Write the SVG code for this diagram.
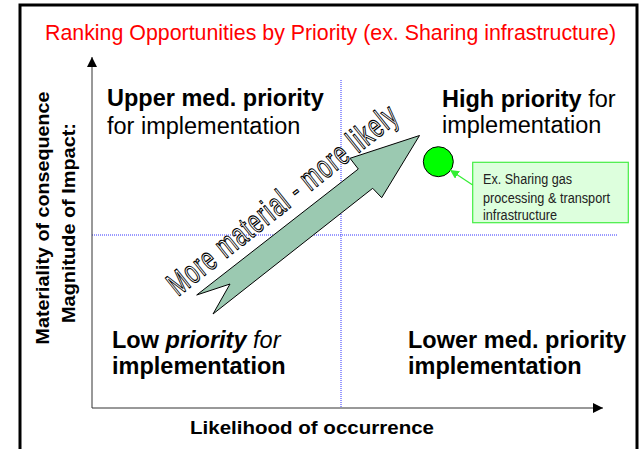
<svg xmlns="http://www.w3.org/2000/svg" width="644" height="449" viewBox="0 0 644 449">
  <defs>
    <style>
      .lbl { font-family: "Liberation Sans", Arial, sans-serif; font-size: 23.5px; fill: #000; }
      .b { font-weight: bold; }
      .axis { stroke: #333; stroke-width: 1; fill: none; }
      .grid { stroke: #3333ff; stroke-width: 1; stroke-dasharray: 1 1; fill: none; }
      .axlbl { font-family: "Liberation Sans", Arial, sans-serif; font-size: 18px; font-weight: bold; fill: #000; }
      .note { font-family: "Liberation Sans", Arial, sans-serif; font-size: 14px; fill: #222; }
    </style>
    <marker id="ah" viewBox="0 0 10 10" refX="10" refY="5" markerWidth="10" markerHeight="10" markerUnits="userSpaceOnUse" orient="auto">
      <path d="M0,0 L10,5 L0,10 z" fill="#000"/>
    </marker>
    <marker id="gh" viewBox="0 0 10 10" refX="10" refY="5" markerWidth="9" markerHeight="9" markerUnits="userSpaceOnUse" orient="auto">
      <path d="M0,0 L10,5 L0,10 z" fill="#33ee33"/>
    </marker>
  </defs>
  <rect width="644" height="449" fill="#fff"/>
  <rect id="frame" x="20" y="5" width="617" height="470" fill="none" stroke="#000" stroke-width="3"/>
  <g id="title">
    <text x="45" y="40" font-family="'Liberation Sans', Arial, sans-serif" font-size="22" fill="#ff0000" textLength="571" lengthAdjust="spacingAndGlyphs">Ranking Opportunities by Priority (ex. Sharing infrastructure)</text>
  </g>
  <g id="gridlines">
    <line class="grid" x1="341" y1="80" x2="341" y2="408"/>
    <line class="grid" x1="92" y1="235" x2="618" y2="235"/>
  </g>
  <g id="axes">
    <line class="axis" x1="92" y1="408" x2="92" y2="57" marker-end="url(#ah)"/>
    <line class="axis" x1="92" y1="408" x2="603" y2="408" marker-end="url(#ah)"/>
    <text class="axlbl" x="190" y="434" textLength="244" lengthAdjust="spacingAndGlyphs">Likelihood  of occurrence</text>
    <text class="axlbl" transform="translate(49,218) rotate(-90)" text-anchor="middle" textLength="253" lengthAdjust="spacingAndGlyphs">Materiality of  consequence</text>
    <text class="axlbl" transform="translate(75,223) rotate(-90)" text-anchor="middle" textLength="200" lengthAdjust="spacingAndGlyphs">Magnitude  of Impact:</text>
  </g>
  <g id="q-upper">
    <text class="lbl b" x="107" y="106">Upper med. priority</text>
    <text class="lbl" x="107" y="134">for implementation</text>
  </g>
  <g id="q-high">
    <text class="lbl" x="442" y="107"><tspan class="b">High priority</tspan> for</text>
    <text class="lbl" x="442" y="133">implementation</text>
  </g>
  <g id="q-low">
    <text class="lbl" x="112" y="348"><tspan class="b">Low </tspan><tspan class="b" font-style="italic">priority</tspan><tspan font-style="italic"> for</tspan></text>
    <text class="lbl b" x="112" y="374">implementation</text>
  </g>
  <g id="q-lower">
    <text class="lbl b" x="408" y="348">Lower med. priority</text>
    <text class="lbl b" x="408" y="374">implementation</text>
  </g>
  <g id="trend-arrow">
    <polygon points="196.7,295 358.3,169 350,158.3 419.5,135.5 381.7,197.7 372.7,188.3 213,314 230,284" fill="#9bc9b1" stroke="#000" stroke-width="1"/>
    <text transform="translate(178,297) rotate(-38.5) scale(0.66,1)" x="0" y="0" font-family="'Liberation Sans', Arial, sans-serif" font-size="33" fill="#fff" stroke="#000" stroke-width="1" vector-effect="non-scaling-stroke" textLength="430" lengthAdjust="spacing">More material - more likely</text>
  </g>
  <g id="example-dot">
    <circle cx="438.3" cy="161.7" r="15" fill="#00ff00" stroke="#000" stroke-width="1"/>
  </g>
  <g id="callout">
    <rect x="472.7" y="162.3" width="155.6" height="60.4" fill="#ddffdd" stroke="#44ee44" stroke-width="1.2"/>
    <text class="note" x="483" y="184.3" textLength="89" lengthAdjust="spacingAndGlyphs">Ex. Sharing gas</text>
    <text class="note" x="483" y="202.7" textLength="127" lengthAdjust="spacingAndGlyphs">processing &amp; transport</text>
    <text class="note" x="483" y="220" textLength="74" lengthAdjust="spacingAndGlyphs">infrastructure</text>
  </g>
  <g id="connectors">
    <line x1="472.7" y1="185" x2="450" y2="170" stroke="#33ee33" stroke-width="1.2" marker-end="url(#gh)"/>
  </g>
</svg>
